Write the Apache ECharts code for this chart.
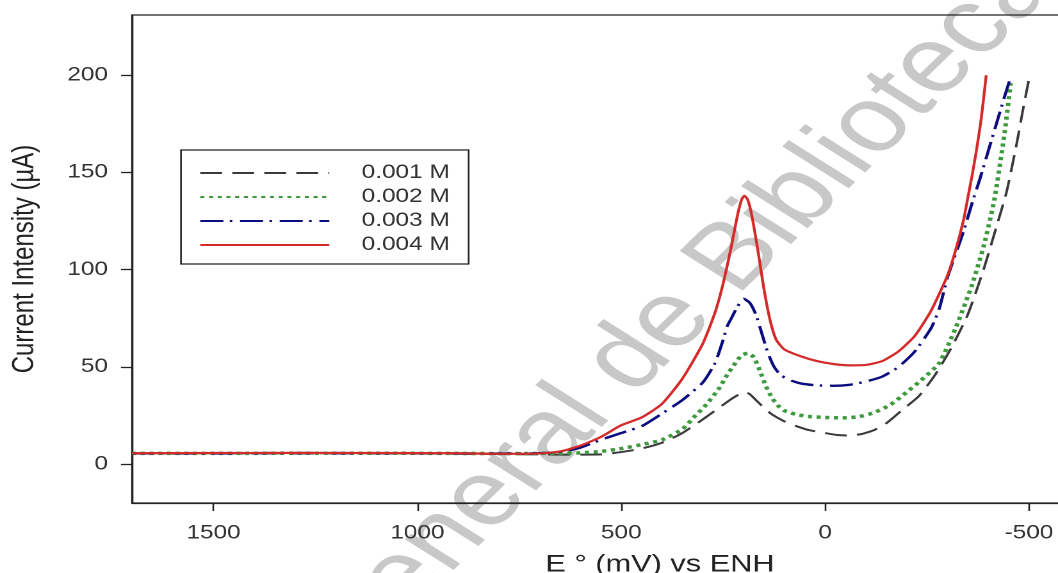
<!DOCTYPE html>
<html lang="es">
<head>
    <meta charset="UTF-8">
    <script src="https://cdn.jsdelivr.net/npm/echarts@6/dist/echarts.min.js"></script>
    <title>Current Intensity vs E</title>
</head>
<body>
<style>
    html, body {
        margin: 0;
        width: 100%;
        height: 100%;
        overflow: hidden;
        background: #fff;
    }
    #main {
        width: 826px;
        height: 573px;
        transform-origin: 0 0;
    }
</style>
<div id="main"></div>
<script>
    // potential (mV vs ENH) and current (uA)
    var x001 = [1700, 1500, 1300, 1100, 900, 800, 700, 650, 600, 550, 500, 450, 400, 350, 300, 260, 230, 210, 198, 185, 170, 150, 130, 100, 70, 40, 0, -30, -60, -90, -120, -150, -190, -230, -270, -310, -350, -390, -420, -445, -470, -485, -500];
    var y001 = [5.5, 5.6, 5.5, 5.6, 5.3, 5.2, 5.0, 4.9, 4.9, 5.0, 6.2, 8, 11, 16, 23, 29, 33.5, 36, 37, 36, 33, 29, 25.5, 22, 19.5, 17.5, 16, 15, 14.7, 15.5, 17.5, 21, 28, 35, 46, 60, 77, 101, 122, 140, 165, 182, 198];

    var x002 = [1700, 1500, 1300, 1100, 900, 800, 700, 650, 600, 550, 500, 450, 400, 350, 320, 290, 260, 240, 220, 205, 190, 175, 160, 145, 130, 115, 100, 70, 40, 0, -40, -80, -120, -160, -200, -240, -280, -320, -360, -390, -415, -440, -455];
    var y002 = [5.5, 5.5, 5.6, 5.6, 5.5, 5.4, 5.5, 5.6, 5.8, 6.5, 8, 10, 12.5, 18, 24.5, 31, 39, 46, 52, 56, 57, 55, 48, 40, 34, 30, 27.5, 25.5, 24.5, 24, 23.8, 24.3, 26.5, 30.5, 37, 44, 52, 70, 92, 113, 136, 170, 196];

    var x003 = [1700, 1500, 1300, 1100, 900, 800, 700, 650, 600, 550, 500, 450, 400, 350, 300, 270, 250, 240, 230, 215, 200, 185, 170, 155, 140, 125, 110, 90, 60, 20, -20, -60, -100, -140, -180, -220, -260, -280, -300, -320, -340, -360, -380, -400, -420, -440, -452];
    var y003 = [5.5, 5.5, 5.7, 5.6, 5.5, 5.4, 5.6, 6.3, 8.5, 12.5, 16, 19.5, 26, 33, 42, 52, 64, 71, 75, 81, 85, 83, 77, 67, 57, 50, 46, 43.5, 41.5, 40.5, 40.3, 40.8, 42.5, 45, 50, 58, 70, 80, 96, 108, 120, 134, 147, 161, 175, 189, 197];

    var x004 = [1700, 1500, 1300, 1100, 900, 800, 700, 650, 600, 550, 500, 450, 400, 350, 300, 270, 250, 230, 215, 205, 198, 190, 180, 165, 150, 135, 120, 100, 60, 20, -20, -60, -100, -140, -180, -220, -260, -300, -320, -340, -350, -360, -370, -383, -395];
    var y004 = [5.6, 5.7, 5.8, 5.7, 5.6, 5.3, 5.5, 6.5, 9.5, 14, 20, 24, 31, 44, 62, 78, 93, 112, 128, 136, 138, 136, 128, 110, 90, 74, 64, 59, 55.5, 53, 51.5, 50.8, 51, 53, 58, 66, 79, 97, 110, 126, 137, 148, 160, 178, 200];

    var seriesNames = ['0.001 M', '0.002 M', '0.003 M', '0.004 M'];
    var xTicks = [1500, 1000, 500, 0, -500];
    var yTicks = [0, 50, 100, 150, 200];

    // the source figure is stretched sideways, so the canvas is too
    var S = 1058 / 826;
    var px = function (v) { return v / S; };

    var mainContainer = document.getElementById('main');
    mainContainer.style.transform = 'scaleX(' + S + ')';
    var myChart = echarts.init(mainContainer, null, {devicePixelRatio: 2});

    function pairs(xs, ys) {
        var out = [];
        for (var i = 0; i < xs.length; i++) {
            out.push([xs[i], ys[i]]);
        }
        return out;
    }

    var font = '"Liberation Sans", Arial, sans-serif';
    var styles = [
        {color: '#3a3a3a', width: 2, type: [17, 8]},
        {color: '#3d9a3d', width: 3.5, type: [3.2, 3.6]},
        {color: '#0c0c80', width: 2.4, type: [18, 5, 2, 6]},
        {color: '#d42a2a', width: 2.2, type: 'solid'}
    ];
    var datas = [pairs(x001, y001), pairs(x002, y002), pairs(x003, y003), pairs(x004, y004)];

    var series = [];
    for (var k = 0; k < 4; k++) {
        series.push({
            name: seriesNames[k],
            type: 'line',
            data: datas[k],
            symbol: 'none',
            smooth: 0.2,
            animation: false,
            color: styles[k].color,
            lineStyle: {
                color: styles[k].color,
                width: styles[k].width,
                type: styles[k].type,
                cap: 'butt'
            }
        });
    }

    // watermark: angle is 44deg on the page, so steeper before the stretch
    var wmAngle = Math.atan(S * Math.tan(44 * Math.PI / 180));

    var option = {
        backgroundColor: '#fff',
        animation: false,
        grid: {
            show: true,
            left: px(132),
            top: 15,
            width: px(1188 - 132),
            bottom: 70,
            outerBoundsMode: 'none',
            borderColor: '#222',
            borderWidth: 1.3,
            containLabel: false
        },
        graphic: [{
            type: 'text',
            x: 415.6,
            y: 453.5,
            rotation: wmAngle,
            z: -10,
            style: {
                text: 'Dirección General de Bibliotecas',
                fill: '#c8c8c8',
                font: '92px ' + font,
                align: 'center',
                verticalAlign: 'middle'
            }
        }],
        legend: {
            data: seriesNames,
            orient: 'vertical',
            left: px(181),
            top: 150,
            padding: [13, px(19), 9, px(18)],
            itemWidth: px(129),
            itemHeight: 14,
            itemGap: 4,
            selectedMode: false,
            borderColor: '#222',
            borderWidth: 1.3,
            backgroundColor: '#fff',
            itemStyle: {color: 'rgba(0,0,0,0)', borderWidth: 0, opacity: 0},
            textStyle: {
                fontFamily: font,
                fontSize: 19,
                lineHeight: 20,
                color: '#333',
                padding: [0, 0, 0, px(26)]
            }
        },
        xAxis: {
            type: 'value',
            inverse: true,
            min: -890,
            max: 1700,
            name: 'E ° (mV) vs ENH',
            nameLocation: 'middle',
            nameGap: 50,
            nameTextStyle: {fontFamily: font, fontSize: 24, color: '#222'},
            axisLine: {show: true, onZero: false, lineStyle: {color: '#222', width: 1.3}},
            axisTick: {show: true, inside: false, length: 8, customValues: xTicks, lineStyle: {color: '#222', width: 1.3}},
            axisLabel: {
                customValues: xTicks,
                margin: 21,
                fontFamily: font,
                fontSize: 19,
                color: '#333',
                formatter: function (v) { return String(v); }
            },
            splitLine: {show: false}
        },
        yAxis: {
            type: 'value',
            min: -20,
            max: 231,
            name: 'Current Intensity (µA)',
            nameLocation: 'middle',
            nameRotate: 90,
            nameGap: px(92),
            nameTextStyle: {fontFamily: font, fontSize: 24, color: '#222'},
            axisLine: {show: true, onZero: false, lineStyle: {color: '#222', width: 1.3}},
            axisTick: {show: true, inside: false, length: px(11), customValues: yTicks, lineStyle: {color: '#222', width: 1.3}},
            axisLabel: {
                customValues: yTicks,
                margin: px(24),
                fontFamily: font,
                fontSize: 19,
                color: '#333',
                formatter: function (v) { return String(v); }
            },
            splitLine: {show: false}
        },
        series: series
    };

    myChart.setOption(option, true);
</script>
</body>
</html>
